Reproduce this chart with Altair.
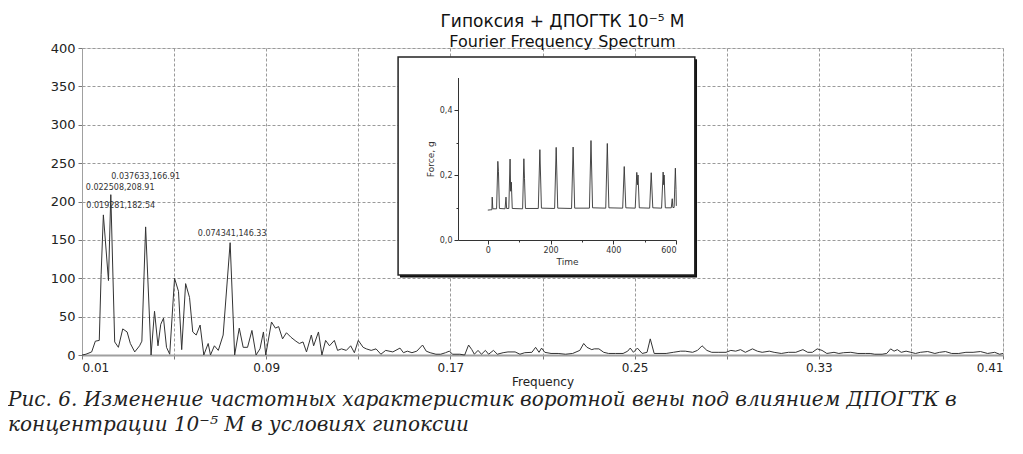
import altair as alt
import pandas as pd

# ---------------- data ----------------
freq = [0.0100, 0.0117, 0.0142, 0.0158, 0.0175, 0.0183, 0.019281, 0.0215, 0.022508, 0.0242,
        0.0258, 0.0277, 0.0296, 0.0310, 0.0329, 0.0350, 0.0360, 0.037633, 0.0400, 0.0415,
        0.0430, 0.0442, 0.0454, 0.0467, 0.0481, 0.0502, 0.0519, 0.0533, 0.0550, 0.0567,
        0.0581, 0.0596, 0.0613, 0.0629, 0.0648, 0.0658, 0.0675, 0.0692, 0.0713, 0.074341,
        0.0763, 0.0783, 0.0800, 0.0819, 0.0838, 0.0856, 0.0873, 0.0888, 0.0898, 0.0923,
        0.0940, 0.0954, 0.0971, 0.0988, 0.1008, 0.1029, 0.1044, 0.1060, 0.1075, 0.1096,
        0.1106, 0.1127, 0.1142, 0.1158, 0.1175, 0.1196, 0.1210, 0.1227, 0.1248, 0.1267,
        0.1283, 0.1300, 0.1321, 0.1335, 0.1356, 0.1377, 0.1398, 0.1419, 0.1450, 0.1481,
        0.1496, 0.1513, 0.1533, 0.1554, 0.1579, 0.1595, 0.1612, 0.1637, 0.1658, 0.1679,
        0.1695, 0.1710, 0.1741, 0.1762, 0.1779, 0.1793, 0.1804, 0.1820, 0.1835, 0.1852,
        0.1866, 0.1887, 0.1904, 0.1929, 0.1950, 0.1981, 0.2002, 0.2023, 0.2054, 0.2070,
        0.2085, 0.2096, 0.2110, 0.2137, 0.2168, 0.2200, 0.2231, 0.2262, 0.2279, 0.2293,
        0.2314, 0.2325, 0.2345, 0.2366, 0.2387, 0.2418, 0.2450, 0.2470, 0.2481, 0.2495,
        0.2512, 0.2533, 0.2554, 0.2568, 0.2585, 0.2606, 0.2637, 0.2668, 0.2700, 0.2720,
        0.2752, 0.2773, 0.2793, 0.2814, 0.2835, 0.2866, 0.2897, 0.2918, 0.2939, 0.2960,
        0.2981, 0.3012, 0.3033, 0.3054, 0.3085, 0.3106, 0.3137, 0.3168, 0.3200, 0.3231,
        0.3252, 0.3272, 0.3293, 0.3314, 0.3335, 0.3366, 0.3387, 0.3408, 0.3439, 0.3470,
        0.3502, 0.3523, 0.3543, 0.3575, 0.3595, 0.3612, 0.3627, 0.3641, 0.3658, 0.3679,
        0.3700, 0.3720, 0.3741, 0.3773, 0.3804, 0.3825, 0.3850, 0.3877, 0.3908, 0.3939,
        0.3970, 0.4002, 0.4033, 0.4064, 0.4085, 0.4100]
amp = [0, 1, 4, 18, 19, 105, 182.54, 97, 208.91, 17,
       10, 34, 30, 15, 4, 12, 18, 166.91, 0, 57,
       12, 40, 48, 10, 1, 100, 83, 7, 93, 75,
       30, 26, 39, 0, 15, 0, 12, 6, 26, 146.33,
       0, 35, 10, 10, 32, 0, 8, 30, 0, 43,
       35, 37, 21, 29, 23, 18, 15, 17, 4, 26,
       12, 30, 0, 19, 12, 19, 6, 8, 6, 12,
       3, 19, 10, 8, 6, 8, 1, 6, 4, 9,
       3, 5, 3, 5, 13, 5, 3, 1, 1, 3,
       5, 1, 1, 0, 13, 7, 1, 6, 1, 6,
       1, 6, 1, 3, 4, 4, 1, 3, 3.5, 10,
       3.5, 9, 3.5, 2, 2, 1, 2, 6, 15, 10,
       7, 8, 8, 3.5, 2, 2, 2, 5, 9, 3.5,
       9, 2, 3.5, 21, 2, 2, 2, 3.5, 5, 5,
       3.5, 6, 12, 6, 3.5, 3.5, 3.5, 6, 5, 7,
       3.5, 8, 5, 3.5, 5, 3.5, 2, 3.5, 3.5, 7,
       3.5, 3.5, 8, 6, 2, 3.5, 2, 3, 3.5, 2,
       2, 2, 1, 1, 2, 8, 5, 7, 3.5, 5,
       3.5, 2, 3.5, 4.5, 2, 3.5, 4.5, 2, 2, 3.5,
       3.5, 4.5, 2, 3.5, 1, 2]

peak_freq = [0.019281, 0.022508, 0.037633, 0.074341]
peak_amp = [182.54, 208.91, 166.91, 146.33]

x_ticks = [0.01, 0.05, 0.09, 0.13, 0.17, 0.21, 0.25, 0.29, 0.33, 0.37, 0.41]
y_ticks = [0, 50, 100, 150, 200, 250, 300, 350, 400]

# inset: force record
time_s = [0, 10, 13, 14, 16, 28, 32, 34, 37, 55, 58, 60, 67, 71, 73, 75, 78,
          111, 115, 117, 120, 161, 166, 171, 213, 218, 223, 267, 272, 277,
          324, 329, 334, 376, 381, 386, 430, 435, 440, 470, 475, 477, 479, 483,
          516, 521, 526, 554, 559, 561, 562, 566, 585, 588, 590, 594, 598, 600, 601]
force_g = [0.092, 0.093, 0.093, 0.132, 0.096, 0.096, 0.242, 0.210, 0.097, 0.096, 0.132, 0.097,
           0.097, 0.249, 0.150, 0.178, 0.097,
           0.096, 0.250, 0.190, 0.097, 0.097, 0.278, 0.098, 0.097, 0.285, 0.098, 0.097, 0.286, 0.098,
           0.098, 0.306, 0.099, 0.098, 0.297, 0.099, 0.098, 0.226, 0.099, 0.098, 0.208, 0.170, 0.200, 0.099,
           0.098, 0.207, 0.099, 0.098, 0.209, 0.170, 0.200, 0.099, 0.099, 0.127, 0.100, 0.100, 0.221, 0.155, 0.105]
inset_x_ticks = [0, 100, 200, 300, 400, 500, 600]
inset_y_ticks = [0.0, 0.1, 0.2, 0.3, 0.4]

title_text = "Гипоксия + ДПОГТК 10⁻⁵ М"
subtitle_text = "Fourier Frequency Spectrum"
caption_lines = ["Рис. 6. Изменение частотных характеристик воротной вены под влиянием ДПОГТК в",
                 "концентрации 10⁻⁵ М в условиях гипоксии"]

# ---------------- layout ----------------
W, H = 921, 307
SANS = "DejaVu Sans"

spec_df = pd.DataFrame({"f": freq, "a": amp})
peaks_df = pd.DataFrame({"f": peak_freq, "a": peak_amp,
                         "label": [f"{f:.6f},{a:.2f}" for f, a in zip(peak_freq, peak_amp)]})

xscale = alt.Scale(domain=[0.01, 0.41], nice=False, zero=False)
yscale = alt.Scale(domain=[0, 400], nice=False)

xaxis = alt.Axis(values=x_ticks,
                 labelExpr="(round(datum.value*100)-1)%8==0 ? format(datum.value,'.2f') : ''",
                 grid=True, gridDash=[3, 2], gridColor="#9a9a9a", gridWidth=1,
                 tickSize=4, tickColor="#777", domainColor="#a0a0a0", domainWidth=2,
                 labelFont=SANS, labelFontSize=12, labelColor="#222", labelPadding=3,
                 labelOverlap=False,
                 title="Frequency", titleFont=SANS, titleFontSize=12,
                 titleFontWeight="normal", titleColor="#222", titlePadding=3)
yaxis = alt.Axis(values=y_ticks, grid=True, gridDash=[3, 2], gridColor="#9a9a9a", gridWidth=1,
                 tickSize=4, tickColor="#777", domainColor="#a0a0a0", domainWidth=1,
                 labelFont=SANS, labelFontSize=13, labelColor="#222", labelPadding=3,
                 labelOverlap=False, title=None)

X = alt.X("f:Q", scale=xscale, axis=xaxis)
Y = alt.Y("a:Q", scale=yscale, axis=yaxis)

line = alt.Chart(spec_df).mark_line(color="#333", strokeWidth=1).encode(x=X, y=Y)


def peak_label(i, align, dx, dy):
    return alt.Chart(peaks_df.iloc[[i]]).mark_text(
        align=align, baseline="middle", dx=dx, dy=dy,
        font=SANS, fontSize=8, color="#333"
    ).encode(x=X, y=Y, text="label:N")


labels = [
    peak_label(0, "left", -17, -9),
    peak_label(1, "left", -25, -7),
    peak_label(2, "center", 0, -50),
    peak_label(3, "center", 2, -9),
]

caption = [
    alt.Chart(pd.DataFrame({"t": [caption_lines[k]]})).mark_text(
        align="left", baseline="middle", font="DejaVu Serif", fontStyle="italic",
        fontSize=20, color="#222"
    ).encode(text="t:N", x=alt.value(-74), y=alt.value(352 + 25 * k))
    for k in range(2)
]

main = alt.layer(line, *labels, *caption)

# ---------------- inset ----------------
ixscale = alt.Scale(domain=[-95, 600], range=[376, 594], nice=False, zero=False)
iyscale = alt.Scale(domain=[0, 0.5], range=[192, 29.5], nice=False, zero=False)
ixaxis = alt.Axis(orient="bottom", offset=-115, values=inset_x_ticks, zindex=2,
                  labelExpr="datum.value % 200 == 0 ? format(datum.value,'d') : ''",
                  grid=False, tickSize={"condition": {"test": "datum.value % 200 != 0", "value": 2}, "value": 4},
                  tickColor="#333", domainColor="#333", labelFont=SANS, labelFontSize=8,
                  labelColor="#333", labelPadding=2, labelOverlap=False,
                  title="Time", titleFont=SANS,
                  titleFontSize=9, titleFontWeight="normal", titleColor="#333", titlePadding=3)
iyaxis = alt.Axis(orient="left", offset=-376, values=inset_y_ticks, zindex=2,
                  labelExpr="round(datum.value*10)%2==0 ? replace(format(datum.value,'.1f'),'.',',') : ''",
                  grid=False, tickSize={"condition": {"test": "round(datum.value*10)%2 != 0", "value": 2}, "value": 4},
                  tickColor="#333", domainColor="#333", labelFont=SANS, labelFontSize=8,
                  labelColor="#333", labelPadding=2, labelOverlap=False,
                  title="Force, g", titleFont=SANS,
                  titleFontSize=9, titleFontWeight="normal", titleColor="#333", titlePadding=4)

IX = alt.X("x0:Q", scale=ixscale, axis=ixaxis)
IY = alt.Y("y0:Q", scale=iyscale, axis=iyaxis)

# frame of the inset in inset-axis units (with a small drop shadow)
frame_df = pd.DataFrame({"x0": [-286], "x1": [660], "y0": [-0.108], "y1": [0.563]})
shadow_df = pd.DataFrame({"x0": [-280], "x1": [667], "y0": [-0.115], "y1": [0.556]})
inset_shadow = alt.Chart(shadow_df).mark_rect(fill="#111").encode(x=IX, x2="x1:Q", y=IY, y2="y1:Q")
inset_frame = alt.Chart(frame_df).mark_rect(fill="white", stroke="#222", strokeWidth=1.5).encode(
    x=IX, x2="x1:Q", y=IY, y2="y1:Q",
)
inset_line = alt.Chart(pd.DataFrame({"x0": time_s, "y0": force_g})).mark_line(
    color="#333", strokeWidth=0.9
).encode(x=IX, y=IY)
inset = alt.layer(inset_shadow, inset_frame, inset_line)

chart = alt.layer(main, inset).resolve_scale(x="independent", y="independent").properties(
    width=W, height=H,
    padding={"left": 74, "top": 40, "right": 12, "bottom": 91},
    autosize=alt.AutoSizeParams(type="none"),
    title=alt.TitleParams(text=title_text, subtitle=subtitle_text, anchor="middle", dx=20,
                          font=SANS, fontSize=17, fontWeight="normal", color="#111",
                          subtitleFont=SANS, subtitleFontSize=16, subtitleColor="#111",
                          subtitlePadding=3, offset=-9),
).configure_view(stroke="#888", strokeWidth=1).configure(background="white")

chart.save("out.html", embed_options={"renderer": "svg", "actions": False})
